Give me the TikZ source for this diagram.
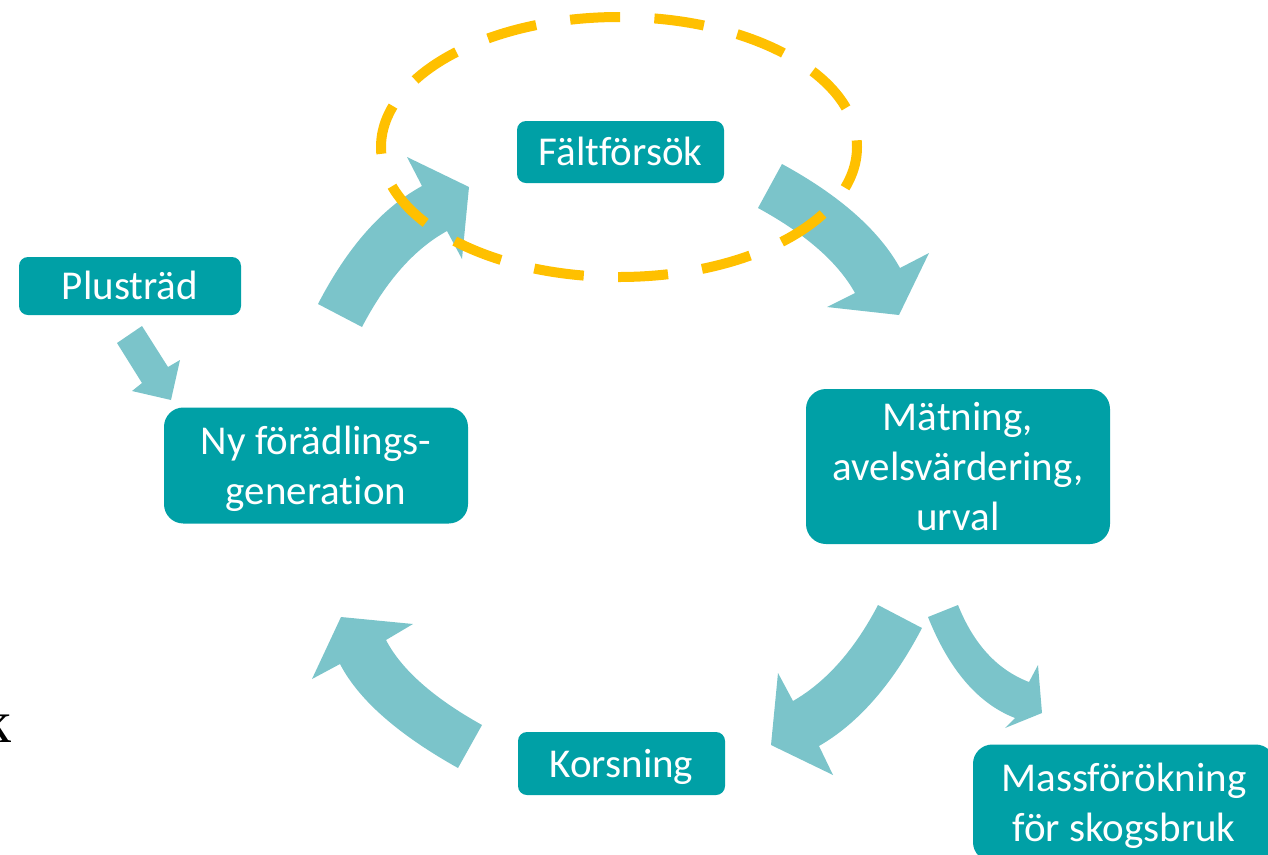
\documentclass[tikz,border=0pt]{standalone}
\usepackage{fontspec}
\setmainfont[Ligatures=NoCommon]{Carlito}
\newfontfamily\serifk{Liberation Serif}
\definecolor{boxteal}{RGB}{0,160,166}
\definecolor{arrowteal}{RGB}{123,196,202}
\definecolor{trialgold}{RGB}{255,192,0}
% fixed line strut: height 27.25pt, depth 7pt
\newcommand\bxs{\rule[-7pt]{0pt}{34.25pt}}
\begin{document}
\begin{tikzpicture}[x=0.75pt,y=-0.75pt,
  box/.style={fill=boxteal, text=white, inner sep=0pt, align=center,
    font=\fontsize{30.75pt}{37.5pt}\selectfont},
  smallbox/.style={box, rounded corners=6.75pt},
  bigbox/.style={box, rounded corners=14.5pt},
  blockarrow/.style={fill=arrowteal},
  trialring/.style={draw=trialgold, line width=7.5pt,
    dash pattern=on 37.5pt off 25.8pt, dash phase=5.25pt}]
\path[use as bounding box] (0,0) rectangle (1268,854);
\clip (0,0) rectangle (1268,854);

% boxes
\node[smallbox, minimum width=166.5pt, minimum height=43.5pt] (plus) at (130,286) {\bxs Plusträd};
\node[smallbox, minimum width=155.25pt, minimum height=46.5pt] (falt) at (620.5,152) {\bxs Fältförsök};
\node[bigbox, minimum width=228pt, minimum height=87pt] (ny) at (316,465.5) {\bxs Ny förädlings-\\\bxs generation};
\node[bigbox, minimum width=228pt, minimum height=116.25pt, rounded corners=15pt] (mat) at (958,466.5) {\bxs Mätning,\\\bxs avelsvärdering,\\\bxs urval};
\node[smallbox, minimum width=155.25pt, minimum height=47.25pt] (kors) at (621.5,763.5) {\bxs Korsning};
\node[bigbox, minimum width=226.5pt, minimum height=87.75pt] (mass) at (1124,803) {\bxs Massförökning\\\bxs för skogsbruk};

% cut-off letter at the left edge
\node[font=\serifk\fontsize{45pt}{54pt}\selectfont, inner sep=0pt, anchor=base east] (kfrag) at (12,742) {k};

% Plusträd -> Ny förädlingsgeneration
\fill[blockarrow] (117,343) -- (142,383) -- (132,391) -- (171,400) -- (180,360) -- (168,367) -- (142,326) -- cycle;

% Ny förädlingsgeneration -> Fältförsök
\fill[blockarrow] (318,304) .. controls (347.3,247.3) and (382,208) .. (422,186)
  -- (407,157) -- (469,187) -- (462,259) -- (447,231)
  .. controls (414.3,249) and (386,281) .. (362,327) -- cycle;

% Fältförsök -> Mätning
\fill[blockarrow] (782,164) .. controls (839.6,195.4) and (878.9,230.1) .. (900,268)
  -- (929,253) -- (899,315) -- (827,307) -- (855,293)
  .. controls (838,262.3) and (805.6,234) .. (758,208) -- cycle;

% Mätning -> Korsning
\fill[blockarrow] (878,605) .. controls (854.6,649.8) and (826.3,681.8) .. (793,701)
  -- (778,673) -- (771,745) -- (833,775) -- (819,746)
  .. controls (858.5,723.2) and (892.8,683.9) .. (922,628) -- cycle;

% Mätning -> Massförökning
\fill[blockarrow] (958,605) .. controls (973.6,644) and (997,669.7) .. (1029,682)
  -- (1038,665) -- (1042,713) -- (1005,728) -- (1015,718)
  .. controls (978.2,703.7) and (949.2,670) .. (928,617) -- cycle;

% Korsning -> Ny förädlingsgeneration
\fill[blockarrow] (482,725) .. controls (433.4,697.9) and (401.4,669.5) .. (386,640)
  -- (413,624) -- (341,617) -- (312,679) -- (340,664)
  .. controls (358.7,699.9) and (398.1,734.5) .. (458,768) -- cycle;

% dashed ring round the field trial
\draw[trialring] (619,147) ellipse [x radius=238, y radius=130];
\end{tikzpicture}
\end{document}
